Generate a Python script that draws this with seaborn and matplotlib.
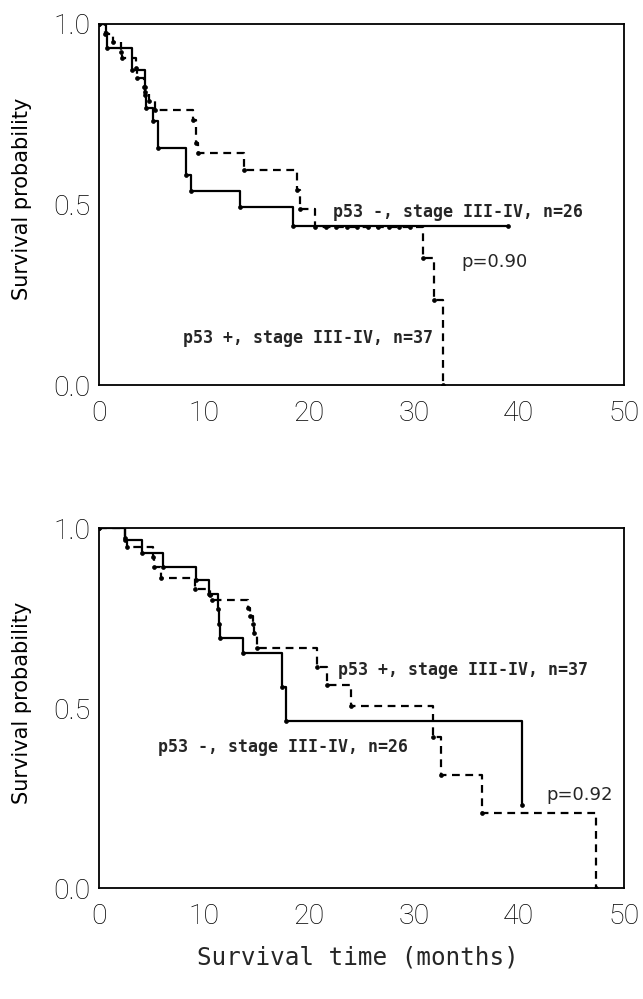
import numpy as np
import pandas as pd
import matplotlib
matplotlib.use('Agg')
import matplotlib.pyplot as plt
import seaborn as sns

# Kaplan-Meier steps (time in months, survival probability)
# Top panel
top_neg_time = [0, 0.7, 0.8, 3.15, 4.4, 4.45, 4.5, 5.2, 5.7, 8.3, 8.8, 13.5, 18.5, 39.0]
top_neg_surv = [1.0, 0.974, 0.934, 0.872, 0.826, 0.803, 0.766, 0.732, 0.657, 0.582, 0.538, 0.494, 0.440, 0.440]

top_pos_time = [0, 0.6, 1.4, 2.1, 2.2, 3.6, 3.7, 4.3, 4.4, 4.8, 5.4, 9.0, 9.3, 9.5, 13.8, 18.9, 19.2, 20.6,
                21.6, 22.6, 23.6, 24.6, 25.6, 26.6, 27.6, 28.6, 29.6, 30.9, 31.9, 32.8]
top_pos_surv = [1.0, 0.973, 0.951, 0.923, 0.905, 0.878, 0.850, 0.825, 0.812, 0.787, 0.762, 0.734, 0.671, 0.642,
                0.596, 0.540, 0.488, 0.438, 0.438, 0.438, 0.438, 0.438, 0.438, 0.438, 0.438, 0.438, 0.438,
                0.351, 0.235, 0.0]

# Bottom panel
bot_neg_time = [0, 2.5, 4.1, 6.15, 9.3, 10.5, 11.4, 11.5, 11.55, 13.7, 17.5, 17.8, 40.3]
bot_neg_surv = [1.0, 0.968, 0.931, 0.894, 0.857, 0.818, 0.775, 0.734, 0.695, 0.653, 0.560, 0.465, 0.231]

bot_pos_time = [0, 2.5, 2.7, 5.2, 5.3, 5.9, 9.2, 10.6, 10.8, 14.2, 14.4, 14.7, 14.75, 15.1, 20.75, 21.75,
                24.0, 31.85, 32.6, 36.5, 47.3]
bot_pos_surv = [1.0, 0.973, 0.949, 0.920, 0.892, 0.861, 0.832, 0.815, 0.801, 0.778, 0.757, 0.733, 0.710,
                0.668, 0.616, 0.564, 0.507, 0.421, 0.314, 0.208, 0.0]

x_ticks = [0, 10, 20, 30, 40, 50]
y_ticks = [0.0, 0.5, 1.0]
y_tick_labels = ['0.0', '0.5', '1.0']

label_pos = 'p53 +, stage III-IV, n=37'
label_neg = 'p53 -, stage III-IV, n=26'

sns.set_style('white')
plt.rcParams['font.family'] = ['DejaVu Sans']

tick_font = dict(family=['Roboto', 'DejaVu Sans'], size=20.5, weight='light')
note_font = dict(family=['DejaVu Sans Mono'], size=12, weight='bold')

fig = plt.figure(figsize=(6.43, 9.99), dpi=100)
ax_top = fig.add_axes([0.1533, 0.6146, 0.8171, 0.3614])
ax_bot = fig.add_axes([0.1533, 0.1111, 0.8171, 0.3599])


def km_curve(ax, t, s, dashed):
    df = pd.DataFrame({'time': t, 'surv': s})
    ls = (0, (3.5, 2.5)) if dashed else '-'
    sns.lineplot(data=df, x='time', y='surv', estimator=None, sort=False, ax=ax,
                 drawstyle='steps-post', color='black', linewidth=1.6, linestyle=ls,
                 marker='o', markersize=2.8, markeredgecolor='black', markeredgewidth=0.5)


def style_axes(ax):
    ax.set_xlim(0, 50)
    ax.set_ylim(0, 1)
    ax.set_xticks(x_ticks)
    ax.set_xticklabels([str(v) for v in x_ticks], fontdict=tick_font)
    ax.set_yticks(y_ticks)
    ax.set_yticklabels(y_tick_labels, fontdict=tick_font)
    ax.tick_params(axis='x', direction='out', length=8, width=1.2, pad=3, colors='black')
    ax.tick_params(axis='y', direction='out', length=5, width=1.2, pad=1, colors='black')
    for sp in ax.spines.values():
        sp.set_visible(True)
        sp.set_color('black')
        sp.set_linewidth(1.3)
    ax.set_ylabel('Survival probability', fontsize=15, color='black')
    ax.yaxis.set_label_coords(-0.127, 0.515)
    ax.set_xlabel('')


km_curve(ax_top, top_neg_time, top_neg_surv, dashed=False)
km_curve(ax_top, top_pos_time, top_pos_surv, dashed=True)
style_axes(ax_top)
ax_top.text(22.3, 0.466, label_neg, **note_font)
ax_top.text(34.55, 0.326, 'p=0.90', fontsize=13)
ax_top.text(8.06, 0.1155, label_pos, **note_font)

km_curve(ax_bot, bot_neg_time, bot_neg_surv, dashed=False)
km_curve(ax_bot, bot_pos_time, bot_pos_surv, dashed=True)
style_axes(ax_bot)
ax_bot.text(22.8, 0.592, label_pos, **note_font)
ax_bot.text(5.65, 0.379, label_neg, **note_font)
ax_bot.text(42.6, 0.245, 'p=0.92', fontsize=13)
ax_bot.set_xlabel('Survival time (months)', family='DejaVu Sans Mono', fontsize=17.5)
ax_bot.xaxis.set_label_coords(0.494, -0.16)

fig.savefig('out.png', dpi=100)
